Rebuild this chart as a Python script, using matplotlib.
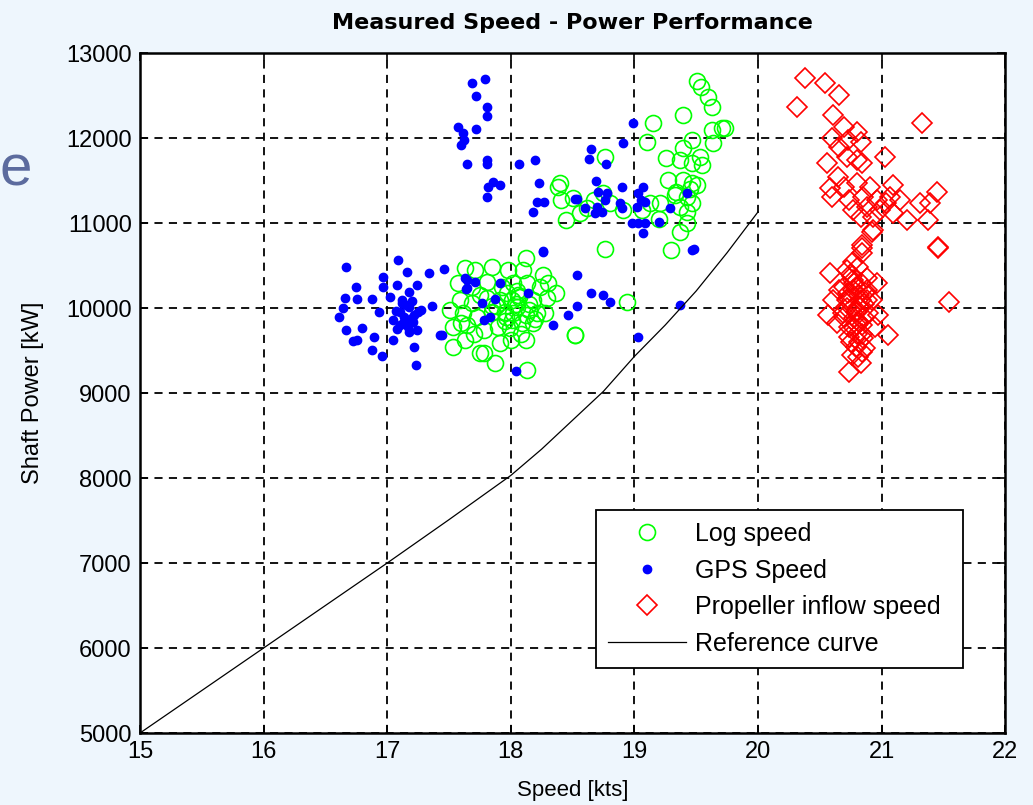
import matplotlib.pyplot as plt
from matplotlib.lines import Line2D

# Log speed measurements (speed [kts], shaft power [kW])
log_speed = [
    18.12, 17.63, 17.71, 17.85, 17.98, 18.10, 18.26, 17.57, 17.69, 17.81,
    17.93, 18.02, 18.13, 18.24, 18.37, 17.59, 17.69, 17.81, 17.91, 18.01,
    18.07, 18.18, 18.29, 17.51, 17.61, 17.73, 17.85, 17.95, 18.02, 18.12,
    18.21, 18.28, 17.53, 17.65, 17.78, 17.90, 17.99, 18.09, 18.18, 17.53,
    17.63, 17.78, 17.87, 17.91, 18.00, 18.12, 18.13, 18.52, 18.01, 17.97,
    18.05, 17.75, 18.76, 18.94, 18.52, 18.04, 17.96, 18.06, 17.88, 18.15,
    17.75, 17.85, 18.05, 17.95, 18.15, 18.20, 17.70, 18.08, 18.30, 17.60,
    19.51, 19.60, 19.63, 19.39, 19.15, 19.10, 19.63, 19.71, 19.47, 19.64,
    19.39, 19.26, 19.53, 19.37, 19.47, 19.55, 18.76, 19.27, 19.39, 19.47,
    19.51, 19.34, 19.43, 19.47, 19.37, 19.43, 19.21, 19.13, 19.06, 18.91,
    18.75, 18.80, 18.67, 18.56, 18.45, 18.40, 18.41, 19.37, 19.30, 19.43,
    18.38, 19.73, 19.54, 19.45, 19.33, 18.62, 18.50, 19.20,
]
log_power = [
    10590, 10470, 10445, 10480, 10445, 10445, 10390, 10295, 10245, 10305,
    10245, 10295, 10295, 10245, 10175, 10095, 10060, 10120, 10095, 10095,
    10130, 10095, 10120, 9975, 9940, 9895, 9950, 9950, 9940, 9920,
    9940, 9940, 9775, 9800, 9740, 9775, 9765, 9825, 9825, 9540,
    9625, 9470, 9355, 9590, 9625, 9625, 9270, 9680, 9860, 10175,
    10010, 9470, 10695, 10070, 9680, 10050, 9900, 10150, 10020, 9980,
    10150, 10020, 10200, 9850, 10050, 9870, 9700, 9700, 10300, 9820,
    12670, 12485, 12365, 12270, 12175, 11955, 12095, 12120, 11975, 11940,
    11880, 11765, 11775, 11740, 11705, 11680, 11775, 11505, 11505, 11470,
    11450, 11365, 11305, 11235, 11190, 11130, 11235, 11235, 11155, 11155,
    11355, 11235, 11270, 11120, 11035, 11470, 11270, 10895, 10680, 11000,
    11425, 12120, 12600, 11400, 11330, 11180, 11300, 11050,
]

# GPS speed measurements
gps_speed = [
    17.69, 17.79, 17.72, 17.81, 17.81, 17.57, 17.61, 17.62, 17.60, 17.72,
    17.65, 17.81, 17.81, 17.86, 17.91, 17.82, 17.81, 18.07, 18.20, 18.23,
    18.21, 18.27, 18.18, 18.26, 18.52,
    18.99, 18.91, 18.65, 18.63, 18.77, 18.69, 18.90, 18.71, 18.78, 18.76,
    18.54, 18.60, 18.70, 18.74, 18.88, 18.90, 19.03, 19.07, 19.05, 19.09,
    19.02, 18.98, 19.03, 19.09, 19.07, 19.20, 19.29, 19.43, 19.48, 18.68,
    16.67, 17.09, 17.16, 17.34, 17.46, 16.97, 16.97, 17.08, 16.75, 16.66,
    16.76, 16.88, 16.64, 16.61, 16.93, 17.02, 17.24, 17.18, 17.10, 17.18,
    17.27, 17.36, 17.05, 17.13, 17.21, 17.24, 17.18, 16.67, 16.80, 16.72,
    16.76, 16.89, 16.88, 16.96, 17.05, 17.22, 17.23, 17.43, 17.63, 17.65,
    17.14, 17.20, 17.07, 17.12, 17.17, 17.22, 17.10, 17.15,
    17.12, 17.18, 17.25, 17.08, 17.20,
    17.65, 17.71, 17.91, 17.64, 17.77, 17.87, 17.78, 17.83, 18.14, 18.26,
    18.54, 18.65, 18.75, 18.80, 18.54, 18.46, 18.34, 18.04, 17.44, 19.03,
    19.37, 19.47,
]
gps_power = [
    12650, 12690, 12500, 12365, 12260, 12130, 12060, 11980, 11920, 12105,
    11695, 11740, 11695, 11480, 11450, 11420, 11305, 11695, 11740, 11470,
    11250, 11250, 11130, 10670, 11280,
    12175, 11940, 11870, 11750, 11695, 11495, 11425, 11365, 11355, 11270,
    11280, 11175, 11190, 11130, 11235, 11175, 11355, 11425, 11270, 11250,
    11190, 11000, 11000, 11000, 10880, 11010, 11175, 11355, 10695, 11120,
    10480, 10565, 10425, 10410, 10460, 10365, 10245, 10270, 10245, 10115,
    10105, 10105, 10000, 9895, 9950, 10130, 10270, 10190, 9950, 10010,
    9975, 10025, 9860, 9825, 9835, 9740, 9720, 9740, 9765, 9610,
    9625, 9660, 9505, 9435, 9625, 9540, 9330, 9680, 10355, 10235,
    9900, 9880, 9960, 10060, 9780, 9920, 9800, 10040,
    10100, 9850, 9950, 9750, 10080,
    10330, 10305, 10295, 10225, 10060, 10105, 9860, 9895, 10175, 10660,
    10390, 10175, 10150, 10070, 10025, 9920, 9800, 9260, 9680, 9660,
    10035, 10680,
]

# Propeller inflow speed measurements
prop_speed = [
    20.38, 20.54, 20.32, 20.66, 20.61, 21.33, 20.70, 20.80, 20.60, 20.73,
    20.83, 21.03, 20.56, 20.72, 20.80, 20.84, 20.65, 20.58, 20.70, 20.80,
    20.91, 21.09, 21.45, 20.60, 20.74, 20.85, 20.96, 21.07, 21.15, 21.31,
    21.39, 20.77, 20.88, 20.99, 20.83, 20.93, 21.09, 21.21, 21.38, 20.93,
    20.84, 21.46, 21.04, 20.66,
    20.92, 20.84, 21.46, 20.58, 20.72, 20.81, 20.77, 20.88, 20.96, 20.66,
    20.77, 20.88, 20.61, 20.72, 20.83, 20.92, 21.55, 20.57, 20.69, 20.80,
    20.89, 20.97, 20.64, 20.74, 20.84, 20.95, 21.05, 20.74, 20.85, 20.79,
    20.87, 20.81, 20.83, 20.74, 20.77, 20.84,
    20.76, 20.82, 20.78, 20.86, 20.70, 20.80, 20.75, 20.83, 20.79, 20.73,
    20.81, 20.87, 20.76, 20.84, 20.78, 20.82,
    20.78, 20.72, 20.86, 20.80, 20.75, 20.82, 20.70, 20.88, 20.76, 20.84,
    20.79, 20.73,
]
prop_power = [
    12705, 12650, 12365, 12505, 12270, 12175, 12130, 12070, 12000, 11975,
    11955, 11775, 11705, 11775, 11740, 11705, 11540, 11410, 11425, 11470,
    11425, 11450, 11365, 11305, 11270, 11305, 11270, 11305, 11270, 11235,
    11235, 11155, 11190, 11155, 11070, 11070, 11120, 11035, 11035, 10920,
    10740, 10720, 11235, 11895,
    10895, 10705, 10705, 10410, 10445, 10480, 10330, 10355, 10295, 10210,
    10210, 10210, 10095, 10095, 10095, 10095, 10070, 9920, 9940, 9950,
    9940, 9920, 9825, 9775, 9800, 9775, 9680, 9660, 9645, 9540,
    9530, 9425, 9355, 9250, 10540, 10645,
    10000, 10150, 9880, 10050, 10250, 9700, 9600, 10300, 9950, 10120,
    9850, 10180, 10380, 9480, 9760, 10020,
    10300, 10000, 9900, 9800, 10400, 9600, 9900, 10100, 9450, 9700,
    10250, 10180,
]

# Reference speed-power curve
ref_speed = [15.0, 15.5, 16.0, 16.5, 17.0, 17.5, 18.0, 18.25, 18.5, 18.75,
             19.0, 19.25, 19.5, 19.75, 20.0]
ref_power = [5000, 5500, 6000, 6500, 7000, 7510, 8030, 8340, 8680, 9020,
             9430, 9800, 10200, 10650, 11130]

plt.rcParams["font.family"] = ["Liberation Sans", "DejaVu Sans"]

fig = plt.figure(figsize=(10.33, 8.05), dpi=100, facecolor="#eef6fd")
ax = fig.add_axes([0.1355, 0.0894, 0.8375, 0.8447])

ms_circ, ms_dot, ms_dia = 11.5, 6.0, 10.0
ax.plot(log_speed, log_power, linestyle="none", marker="o", markersize=ms_circ,
        markerfacecolor="none", markeredgecolor="#00ff00", markeredgewidth=1.2,
        label="Log speed")
ax.plot(gps_speed, gps_power, linestyle="none", marker="o", markersize=ms_dot,
        color="#0000ff", label="GPS Speed")
ax.plot(prop_speed, prop_power, linestyle="none", marker="D", markersize=ms_dia,
        markerfacecolor="none", markeredgecolor="#ff0000", markeredgewidth=1.2,
        label="Propeller inflow speed")
ax.plot(ref_speed, ref_power, color="black", linewidth=0.9, label="Reference curve")

ax.set_xlim(15, 22)
ax.set_ylim(5000, 13000)
ax.set_xticks(range(15, 23))
ax.set_yticks(range(5000, 13001, 1000))
ax.grid(True, color="black", linestyle=(0, (4.5, 3.5)), linewidth=1.3)
ax.tick_params(direction="in", length=6, width=1.2, top=True, right=True,
               labelsize=17, pad=6)
for sp in ax.spines.values():
    sp.set_linewidth(1.8)

ax.set_xlabel("Speed [kts]", fontsize=16, labelpad=12)
ax.set_ylabel("Shaft Power [kW]", fontsize=17, labelpad=16)
ax.set_title("Measured Speed - Power Performance", fontsize=16,
             fontweight="bold", family="DejaVu Sans", pad=17)

handles = [
    Line2D([], [], linestyle="none", marker="o", markersize=ms_circ,
           markerfacecolor="none", markeredgecolor="#00ff00", markeredgewidth=1.2),
    Line2D([], [], linestyle="none", marker="o", markersize=ms_dot, color="#0000ff"),
    Line2D([], [], linestyle="none", marker="D", markersize=ms_dia,
           markerfacecolor="none", markeredgecolor="#ff0000", markeredgewidth=1.2),
    Line2D([], [], color="black", linewidth=0.9),
]
labels = ["Log speed", "GPS Speed", "Propeller inflow speed", "Reference curve"]
leg = ax.legend(handles, labels, loc="lower left",
                bbox_to_anchor=(0.527, 0.0956, 0.424, 0.228), mode="expand",
                fontsize=18, frameon=True, fancybox=False, edgecolor="black",
                framealpha=1, handlelength=3.1, labelspacing=0.5,
                borderpad=0.5, handletextpad=0.35, borderaxespad=0)
leg.get_frame().set_linewidth(1.3)

# partial slide letter at the left edge
fig.text(0.0, 0.77, "e", fontsize=42, color="#5c6b9e")

fig.savefig("out.png", dpi=100, facecolor=fig.get_facecolor())
